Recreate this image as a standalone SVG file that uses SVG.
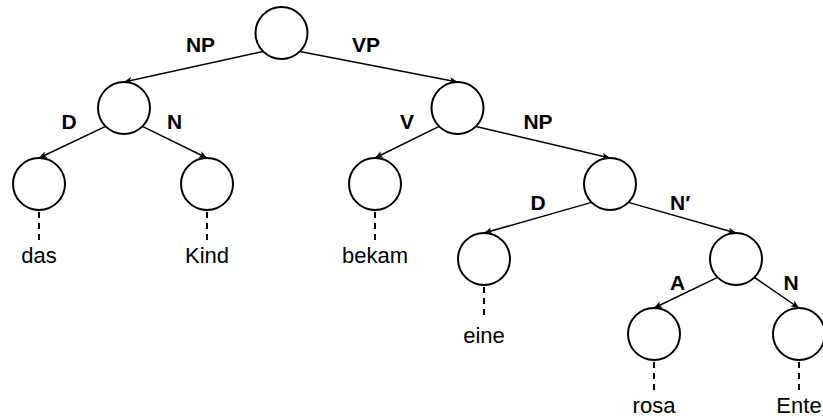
<svg xmlns="http://www.w3.org/2000/svg" width="823" height="418" viewBox="0 0 823 418">
  <defs>
    <marker id="arrow" markerWidth="9" markerHeight="8" refX="8" refY="3.5" orient="auto" markerUnits="userSpaceOnUse">
      <path d="M0,0 L8,3.5 L0,7 L2,3.5 Z" fill="#000"/>
    </marker>
  </defs>
  <style>
    .node { fill: #fff; stroke: #000; stroke-width: 2; }
    .edge { fill: none; stroke: #000; stroke-width: 1.5; marker-end: url(#arrow); }
    .lead { fill: none; stroke: #000; stroke-width: 2; stroke-dasharray: 6 5; }
    .lbl { font-family: "Liberation Sans", Arial, sans-serif; font-size: 21px; font-weight: bold; fill: #000; text-anchor: middle; }
    .word { font-family: "Liberation Sans", Arial, sans-serif; font-size: 22px; fill: #000; text-anchor: middle; }
  </style>

  <!-- connectors: tree edges with arrowheads, dashed leads to words -->
  <g id="connectors">
    <line class="edge" x1="263.1" y1="51.4" x2="124" y2="82"/>
    <line class="edge" x1="299.9" y1="51.4" x2="457.5" y2="82"/>
    <line class="edge" x1="105.6" y1="126.4" x2="39" y2="158"/>
    <line class="edge" x1="142.4" y1="126.4" x2="207" y2="158"/>
    <line class="edge" x1="439.1" y1="126.4" x2="375" y2="158"/>
    <line class="edge" x1="475.9" y1="126.4" x2="610" y2="158"/>
    <line class="edge" x1="591.6" y1="202.4" x2="484" y2="233"/>
    <line class="edge" x1="628.4" y1="202.4" x2="736" y2="233"/>
    <line class="edge" x1="717.6" y1="277.4" x2="654" y2="308"/>
    <line class="edge" x1="754.4" y1="277.4" x2="799" y2="308"/>

    <line class="lead" x1="39" y1="212" x2="39" y2="240"/>
    <line class="lead" x1="207" y1="212" x2="207" y2="240"/>
    <line class="lead" x1="375" y1="212" x2="375" y2="240"/>
    <line class="lead" x1="484" y1="287" x2="484" y2="318"/>
    <line class="lead" x1="654" y1="362" x2="654" y2="390"/>
    <line class="lead" x1="799" y1="362" x2="799" y2="390"/>
  </g>

  <!-- edge labels -->
  <g id="edge-labels">
    <text class="lbl" x="200.5" y="52">NP</text>
    <text class="lbl" x="366" y="52">VP</text>
    <text class="lbl" x="69" y="129">D</text>
    <text class="lbl" x="174.5" y="129">N</text>
    <text class="lbl" x="407" y="129">V</text>
    <text class="lbl" x="538" y="129">NP</text>
    <text class="lbl" x="538" y="210">D</text>
    <text class="lbl" x="670" y="210" style="text-anchor:start">N′</text>
    <text class="lbl" x="677.5" y="290">A</text>
    <text class="lbl" x="791" y="290">N</text>
  </g>

  <!-- tree nodes -->
  <g id="node-root"><circle class="node" cx="281.5" cy="33" r="26"/></g>
  <g id="node-np"><circle class="node" cx="124" cy="108" r="26"/></g>
  <g id="node-vp"><circle class="node" cx="457.5" cy="108" r="26"/></g>
  <g id="node-das">
    <circle class="node" cx="39" cy="184" r="26"/>
    <text class="word" x="39" y="263">das</text>
  </g>
  <g id="node-kind">
    <circle class="node" cx="207" cy="184" r="26"/>
    <text class="word" x="207" y="263">Kind</text>
  </g>
  <g id="node-bekam">
    <circle class="node" cx="375" cy="184" r="26"/>
    <text class="word" x="375" y="263">bekam</text>
  </g>
  <g id="node-np2"><circle class="node" cx="610" cy="184" r="26"/></g>
  <g id="node-eine">
    <circle class="node" cx="484" cy="259" r="26"/>
    <text class="word" x="484" y="342.5">eine</text>
  </g>
  <g id="node-nbar"><circle class="node" cx="736" cy="259" r="26"/></g>
  <g id="node-rosa">
    <circle class="node" cx="654" cy="334" r="26"/>
    <text class="word" x="654" y="413">rosa</text>
  </g>
  <g id="node-ente">
    <circle class="node" cx="799" cy="334" r="26"/>
    <text class="word" x="799" y="413">Ente</text>
  </g>
</svg>
